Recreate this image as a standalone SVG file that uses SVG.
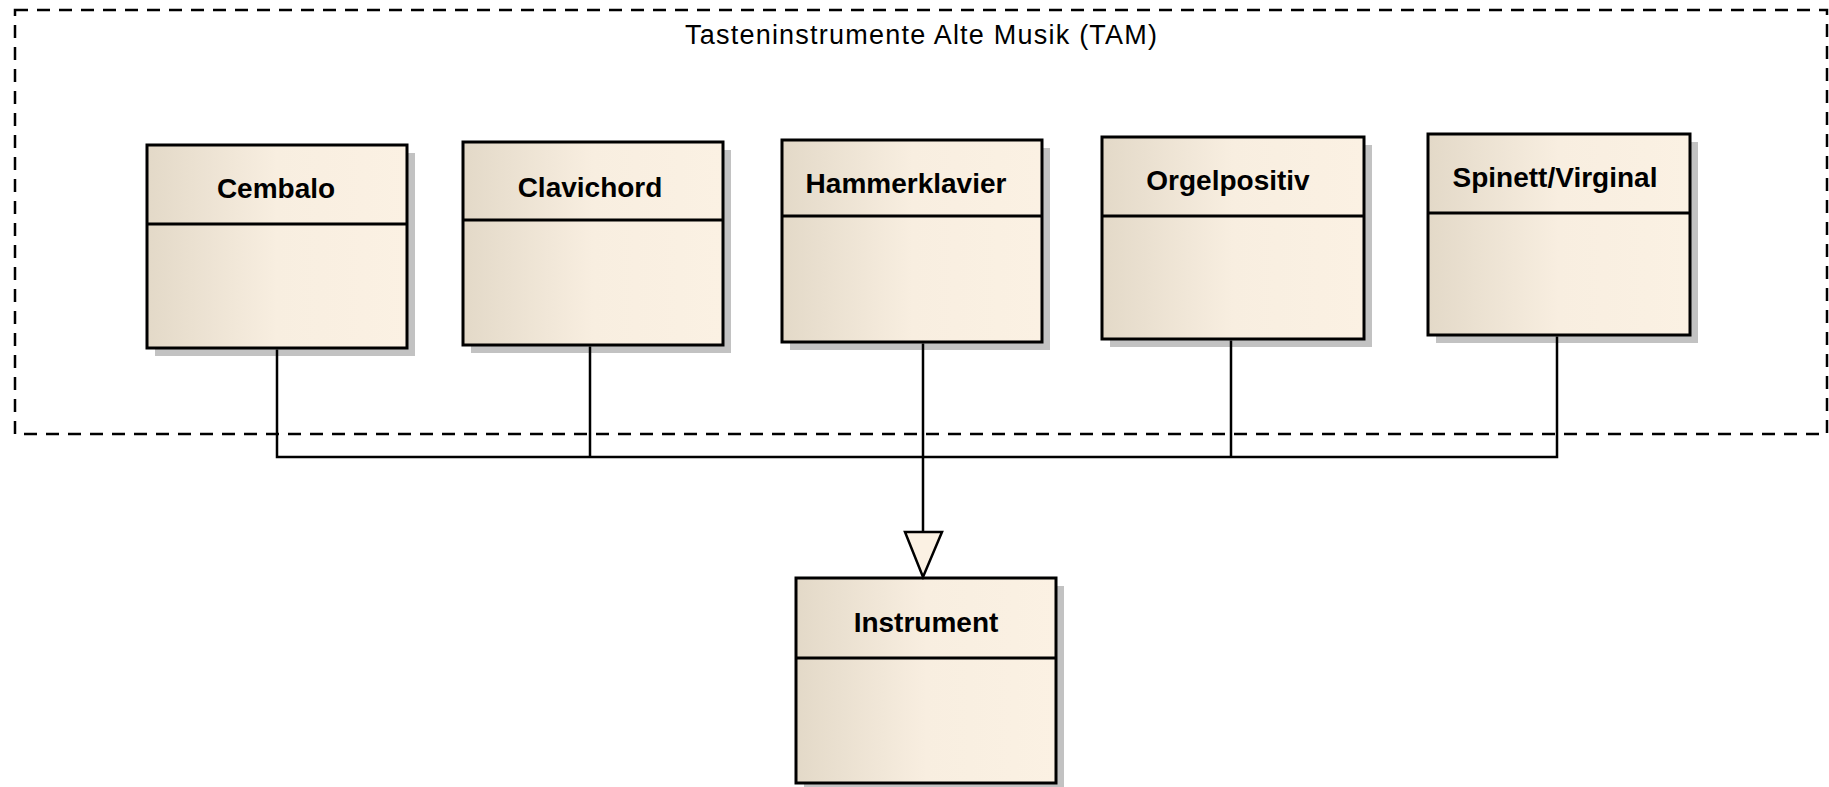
<svg xmlns="http://www.w3.org/2000/svg" width="1829" height="787" viewBox="0 0 1829 787">
<defs>
<linearGradient id="fillg" x1="0" y1="0" x2="1" y2="0">
<stop offset="0" stop-color="#e3d9c8"/>
<stop offset="0.5" stop-color="#f8eee0"/>
<stop offset="1" stop-color="#fbf1e3"/>
</linearGradient>
</defs>
<style>
.shadow{fill:#c2c2c2}
.box{fill:url(#fillg);stroke:#000;stroke-width:3}
.div{stroke:#000;stroke-width:3}
.lbl{font-family:"Liberation Sans",Arial,sans-serif;font-weight:bold;font-size:28px;fill:#000;text-anchor:middle}
.title{font-family:"Liberation Sans",Arial,sans-serif;font-size:27px;fill:#000}
.conn{fill:none;stroke:#000;stroke-width:2.5}
.frame{fill:none;stroke:#000;stroke-width:2.5;stroke-dasharray:13 9}
</style>
<rect width="1829" height="787" fill="#fff"/>
<g id="package">
<rect class="frame" x="15" y="10" width="1812" height="424"/>
<text class="title" x="685" y="44" textLength="472" lengthAdjust="spacing">Tasteninstrumente Alte Musik (TAM)</text>
</g>
<g id="cembalo">
<rect class="shadow" x="155" y="153" width="260" height="203"/>
<rect class="box" x="147" y="145" width="260" height="203"/>
<line class="div" x1="147" y1="224" x2="407" y2="224"/>
<text class="lbl" x="276" y="198">Cembalo</text>
</g>
<g id="clavichord">
<rect class="shadow" x="471" y="150" width="260" height="203"/>
<rect class="box" x="463" y="142" width="260" height="203"/>
<line class="div" x1="463" y1="220" x2="723" y2="220"/>
<text class="lbl" x="590" y="197">Clavichord</text>
</g>
<g id="hammerklavier">
<rect class="shadow" x="790" y="148" width="260" height="202"/>
<rect class="box" x="782" y="140" width="260" height="202"/>
<line class="div" x1="782" y1="216" x2="1042" y2="216"/>
<text class="lbl" x="906" y="193">Hammerklavier</text>
</g>
<g id="orgelpositiv">
<rect class="shadow" x="1110" y="145" width="262" height="202"/>
<rect class="box" x="1102" y="137" width="262" height="202"/>
<line class="div" x1="1102" y1="216" x2="1364" y2="216"/>
<text class="lbl" x="1228" y="190">Orgelpositiv</text>
</g>
<g id="spinett">
<rect class="shadow" x="1436" y="142" width="262" height="201"/>
<rect class="box" x="1428" y="134" width="262" height="201"/>
<line class="div" x1="1428" y1="213" x2="1690" y2="213"/>
<text class="lbl" x="1555" y="187">Spinett/Virginal</text>
</g>
<g id="instrument">
<rect class="shadow" x="804" y="586" width="260" height="205"/>
<rect class="box" x="796" y="578" width="260" height="205"/>
<line class="div" x1="796" y1="658" x2="1056" y2="658"/>
<text class="lbl" x="926" y="632">Instrument</text>
</g>
<g id="connectors">
<path class="conn" d="M277 349.5V457H1557V336.5M590 346.5V457M1231 340.5V457M923 343.5V532"/>
<polygon points="905,532 942,532 923,577" fill="#fbf1e3" stroke="#000" stroke-width="2.5" stroke-linejoin="miter"/>
</g>
</svg>
